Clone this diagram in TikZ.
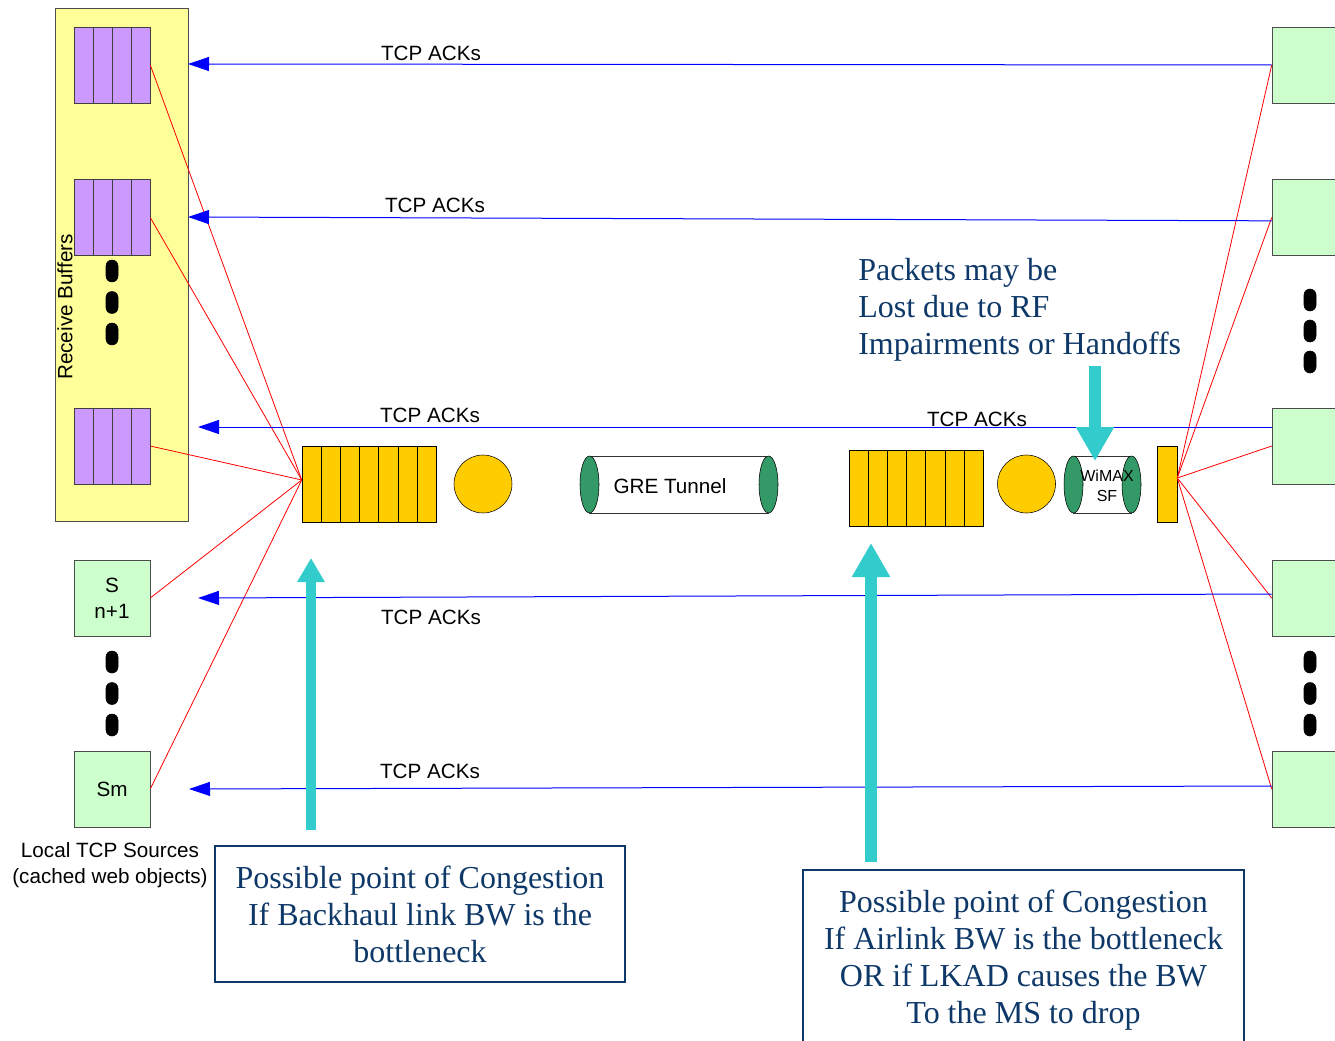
\documentclass[tikz,border=0pt]{standalone}
\usepackage{fontspec}
\setmainfont{Liberation Serif}
\setsansfont{Liberation Sans}
\usetikzlibrary{arrows.meta,calc}
\definecolor{bufyellow}{RGB}{255,255,153}
\definecolor{bufpurple}{RGB}{204,153,255}
\definecolor{qgold}{RGB}{255,204,0}
\definecolor{srcgreen}{RGB}{204,255,204}
\definecolor{tubegreen}{RGB}{51,153,102}
\definecolor{hintcyan}{RGB}{51,204,204}
\definecolor{notenavy}{RGB}{14,56,104}
\begin{document}
\begin{tikzpicture}[x=0.75pt,y=0.75pt,yscale=-1,xscale=1,
    sans/.style={font=\sffamily\fontsize{15.5}{19.5}\selectfont, inner sep=0.75pt, align=center},
    buf/.style={draw=black!75, fill=bufpurple, minimum width=57pt, minimum height=57pt, inner sep=0pt},
    srcbox/.style={draw=black!70, fill=srcgreen, minimum width=57pt, minimum height=57pt, inner sep=0pt, sans},
    queue/.style={draw, fill=qgold, minimum width=100.5pt, minimum height=57pt, inner sep=0pt},
    srv/.style={circle, draw, fill=qgold, minimum size=43.5pt, inner sep=0pt},
    ack/.style={color=blue, line width=0.75pt, -{Triangle[length=15.75pt,width=10.5pt]}},
    fan/.style={color=red, line width=0.6pt},
    hint/.style={color=hintcyan, line width=#1},
    note/.style={draw=notenavy, line width=1.2pt, text=notenavy, align=center, inner sep=0.75pt,
        font=\rmfamily\fontsize{24}{27.75}\selectfont},
    pill/.style={fill=black, rounded corners=4.4pt}]
\useasboundingbox (0,0) rectangle (1335,1041);

% receive buffers
\node [draw=black!70, fill=bufyellow, minimum width=99.75pt, minimum height=384.75pt, inner sep=0pt, anchor=north west] (rcv) at (55,8) {};
\node [buf] (b1) at (112,65) {};
\node [buf] (b2) at (112,217.5) {};
\node [buf] (b3) at (112,446) {};
\foreach \b in {b1,b2,b3} {
    \foreach \i in {1,2,3}
        \draw [black!75] ($(\b.north west)!\i/4!(\b.north east)$) -- ($(\b.south west)!\i/4!(\b.south east)$);
}
\node [sans, rotate=90] (rcvlbl) at (65,307) {Receive Buffers};
\foreach \y in {271,302.5,334}
    \draw [pill] (106,\y-11) rectangle (118,\y+11);

% local sources
\node [srcbox] (sn1) at (112,598) {S\\n+1};
\node [srcbox] (sm) at (112,789) {Sm};
\foreach \y in {662,693.5,725}
    \draw [pill] (106,\y-11) rectangle (118,\y+11);
\node [sans] (srclbl) at (110,865) {Local TCP Sources\\(cached web objects)};

% backhaul side
\node [queue] (qL) at (369,484) {};
\foreach \i in {1,...,6}
    \draw ($(qL.north west)!\i/7!(qL.north east)$) -- ($(qL.south west)!\i/7!(qL.south east)$);
\node [srv] (sL) at (483,484) {};

% GRE tunnel
\draw [black!80, fill=white] (589.5,456) -- (768.5,456) -- (768.5,513) -- (589.5,513) -- cycle;
\draw [fill=tubegreen] (589.5,484.5) ellipse [x radius=9.5, y radius=28.5];
\draw [fill=tubegreen] (768.5,484.5) ellipse [x radius=9.5, y radius=28.5];
\node [sans] (gre) at (670,486) {GRE Tunnel};

% airlink side
\node [queue] (qR) at (916,488) {};
\foreach \i in {1,...,6}
    \draw ($(qR.north west)!\i/7!(qR.north east)$) -- ($(qR.south west)!\i/7!(qR.south east)$);
\node [srv] (sR) at (1026.5,484) {};
\draw [black!80, fill=white] (1073.5,456) -- (1131.5,456) -- (1131.5,513) -- (1073.5,513) -- cycle;
\draw [fill=tubegreen] (1073.5,484.5) ellipse [x radius=9.5, y radius=28.5];
\draw [fill=tubegreen] (1131.5,484.5) ellipse [x radius=9.5, y radius=28.5];
\node [font=\sffamily\fontsize{12}{15}\selectfont, align=center, inner sep=0.75pt] (sf) at (1107,486) {WiMAX\\SF};
\node [draw, fill=qgold, minimum width=15pt, minimum height=57pt, inner sep=0pt] (tx) at (1167,484) {};

% mobile side
\node [srcbox] (d1) at (1310,65) {};
\node [srcbox] (d2) at (1310,217.5) {};
\node [srcbox] (d3) at (1310,446) {};
\node [srcbox] (d4) at (1310,598) {};
\node [srcbox] (d5) at (1310,789) {};
\foreach \y in {300,331,362,662,693.5,725}
    \draw [pill] (1304,\y-11) rectangle (1316,\y+11);

% data fan-out
\foreach \t in {b1,b2,b3,sn1,sm}
    \draw [fan] ([yshift=-3pt]qL.west) -- (\t.east);
\foreach \t in {d1,d2,d3,d4,d5}
    \draw [fan] ([yshift=-4.5pt]tx.east) -- (\t.west);

% acks
\coordinate (a1) at (188,64);
\coordinate (a2) at (188,217);
\coordinate (a3) at (198,427);
\coordinate (a4) at (198,598);
\coordinate (a5) at (189,789);
\draw [ack] (d1.west) -- (a1);
\draw [ack] ([yshift=2.5pt]d2.west) -- (a2);
\draw [ack] ([yshift=-14.25pt]d3.west) -- (a3);
\draw [ack] ([yshift=-3pt]d4.west) -- (a4);
\draw [ack] ([yshift=-2.25pt]d5.west) -- (a5);
\node [sans] (ack1) at (431,53) {TCP ACKs};
\node [sans] (ack2) at (435,205) {TCP ACKs};
\node [sans] (ack3) at (430,415) {TCP ACKs};
\node [sans] (ack3r) at (977,419) {TCP ACKs};
\node [sans] (ack4) at (431,617) {TCP ACKs};
\node [sans] (ack5) at (430,771) {TCP ACKs};

% congestion hints
\node [note, minimum width=307.5pt, minimum height=102pt] (cong1) at (420,914)
    {Possible point of Congestion\\If Backhaul link BW is the\\bottleneck};
\node [note, minimum width=330.75pt, minimum height=135pt] (cong2) at (1023.5,960)
    {Possible point of Congestion\\If Airlink BW is the bottleneck\\OR if LKAD causes the BW\\To the MS to drop};
\node [text=notenavy, align=left, inner sep=0pt, anchor=west, font=\rmfamily\fontsize{24}{27.75}\selectfont] (loss) at (858,310)
    {Packets may be\\Lost due to RF\\Impairments or Handoffs};
\coordinate (h1s) at (311,830);
\coordinate (h1e) at (311,558);
\coordinate (h2s) at (871,862);
\coordinate (h2e) at (871,543);
\coordinate (h3s) at (1095,366);
\coordinate (h3e) at (1095,461);
\draw [hint=7.5pt, -{Triangle[length=18pt,width=19.5pt]}] (h1s) -- (h1e);
\draw [hint=9pt, -{Triangle[length=25.5pt,width=27pt]}] (h2s) -- (h2e);
\draw [hint=9pt, -{Triangle[length=25.5pt,width=27pt]}] (h3s) -- (h3e);
\end{tikzpicture}
\end{document}
